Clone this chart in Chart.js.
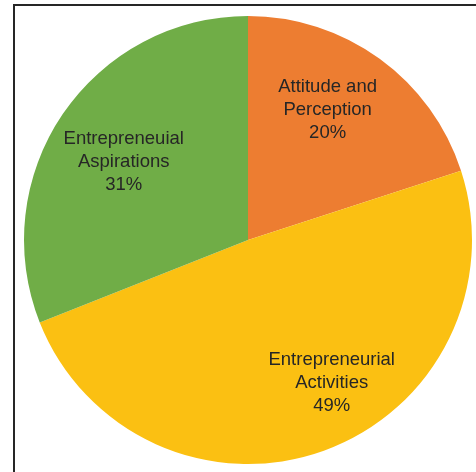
<!DOCTYPE html>
<html lang="en">
<head>
    <meta charset="UTF-8">
    <title>Pie</title>
    <style>
        body {
            margin: 0;
            padding: 0;
            background: #fff;
        }
        #wrap {
            position: relative;
            width: 476px;
            height: 472px;
            overflow: hidden;
        }
        #frame {
            position: absolute;
            left: 13px;
            top: 4px;
            width: 600px;
            height: 600px;
            border-left: 2px solid #262626;
            border-top: 2px solid #262626;
        }
        canvas {
            position: absolute;
            left: 0;
            top: 0;
        }
    </style>
</head>
<body>
    <div id="wrap">
        <div id="frame"></div>
        <canvas id="pieChart" width="476" height="472"></canvas>
    </div>

    <script src="https://cdn.jsdelivr.net/npm/chart.js"></script>
    <script>
        const categories = [
            ['Attitude and', 'Perception'],
            ['Entrepreneurial', 'Activities'],
            ['Entrepreneuial', 'Aspirations']
        ];
        const shares = [20, 49, 31];
        const colors = ['#ED7D31', '#FBC012', '#70AD47'];

        // label placement per slice: shift of angle (deg) and distance as fraction of radius
        const labelSpots = [
            { turn: -5, dist: 0.69 },
            { turn: -11, dist: 0.73 },
            { turn: -1.4, dist: 0.66 }
        ];

        const labelPlugin = {
            id: 'sliceLabels',
            afterDatasetsDraw(chart) {
                const ctx = chart.ctx;
                const meta = chart.getDatasetMeta(0);
                ctx.save();
                ctx.font = '18.5px "Liberation Sans", Arial, sans-serif';
                ctx.fillStyle = '#262626';
                ctx.textAlign = 'center';
                ctx.textBaseline = 'middle';
                meta.data.forEach((arc, i) => {
                    const p = arc.getProps(['x', 'y', 'startAngle', 'endAngle', 'outerRadius']);
                    const mid = (p.startAngle + p.endAngle) / 2 + labelSpots[i].turn * Math.PI / 180;
                    const r = p.outerRadius * labelSpots[i].dist;
                    const cx = p.x + Math.cos(mid) * r;
                    const cy = p.y + Math.sin(mid) * r + 2;
                    const lines = categories[i].concat([shares[i] + '%']);
                    const lh = 23;
                    lines.forEach((t, k) => {
                        ctx.fillText(t, cx, cy + (k - (lines.length - 1) / 2) * lh);
                    });
                });
                ctx.restore();
            }
        };

        const chart = new Chart(document.getElementById('pieChart'), {
            type: 'pie',
            data: {
                labels: categories.map(c => c.join(' ')),
                datasets: [{
                    data: shares,
                    backgroundColor: colors,
                    borderWidth: 0
                }]
            },
            options: {
                responsive: false,
                animation: false,
                layout: {
                    padding: { left: 24, right: 4, top: 16, bottom: 8 }
                },
                plugins: {
                    legend: { display: false },
                    tooltip: { enabled: false }
                }
            },
            plugins: [labelPlugin]
        });
    </script>
</body>
</html>
